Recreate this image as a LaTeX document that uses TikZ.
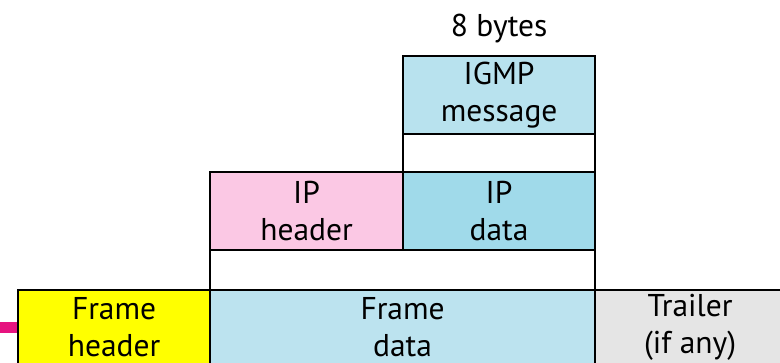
\documentclass[tikz,border=0pt]{standalone}
\usepackage{fontspec}
\setmainfont{PT Sans}
\usetikzlibrary{positioning}
\definecolor{igmpblue}{HTML}{B8E2EE}
\definecolor{hdrpink}{HTML}{FBC8E4}
\definecolor{datablue}{HTML}{A0DAEA}
\definecolor{framehdr}{HTML}{FFFF00}
\definecolor{framedata}{HTML}{BCE3EF}
\definecolor{trailgray}{HTML}{E5E5E5}
\definecolor{stubpink}{HTML}{E6137F}

\begin{document}
\begin{tikzpicture}[
  x=1pt, y=-1pt,
  font=\fontsize{31.5}{37}\selectfont,
  box/.style={draw, line width=2.2pt, align=center, anchor=north west, inner sep=0pt, minimum height=78pt},
  band/.style={draw, line width=2.2pt, fill=white, anchor=north west, inner sep=0pt},
  stubline/.style={line width=11pt, stubpink}
]
\useasboundingbox (0,0) rectangle (780,363);
% frame layer
\node[box, fill=framehdr, minimum width=192pt, minimum height=74pt] (fhdr) at (17,289) {Frame\\header};
\node[box, fill=framedata, minimum width=385pt, minimum height=74pt] (fdata) at (209,289) {Frame\\data};
\node[box, fill=trailgray, minimum width=190pt, minimum height=74pt] (trail) at (594,289) {Trailer\\(if any)};
% IP layer
\node[band, minimum width=385pt, minimum height=40pt] (ipband) at (209,249) {};
\node[box, fill=hdrpink, minimum width=193pt] (iphdr) at (209,171) {IP\\header};
\node[box, fill=datablue, minimum width=192pt] (ipdata) at (402,171) {IP\\data};
% IGMP layer
\node[band, minimum width=192pt, minimum height=38pt] (igmpband) at (402,133) {};
\node[box, fill=igmpblue, minimum width=192pt] (igmp) at (402,55) {IGMP\\message};
\node[above=9pt of igmp] (size) {8 bytes};
% stub on the left
\coordinate (stub) at (0,327.5);
\draw[stubline] (stub) -- (fhdr.west |- stub);
% hide the lower edge, the boxes run on past the page
\fill[white] (0,363) rectangle (780,366);
\end{tikzpicture}
\end{document}
